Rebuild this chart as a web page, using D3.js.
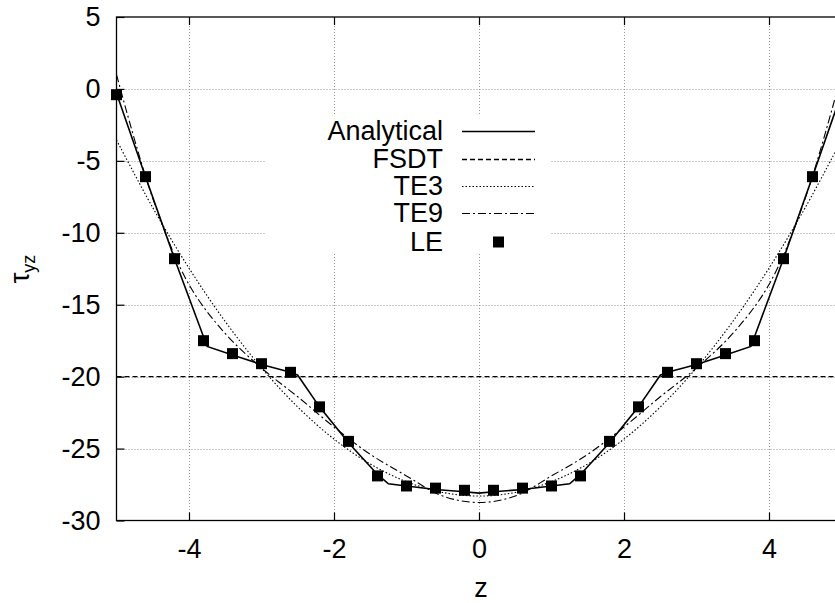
<!DOCTYPE html>
<html><head><meta charset="utf-8">
<script src="https://cdn.jsdelivr.net/npm/d3@7"></script>
<style>body{margin:0;background:#fff}svg{display:block}text{font-family:"Liberation Sans",Arial,sans-serif;fill:#000}</style>
</head><body><svg id="c" width="835" height="603"></svg>
<script>
// ---- data ----
const xTicks = [-4, -2, 0, 2, 4];
const yTicks = [5, 0, -5, -10, -15, -20, -25, -30];
const seriesNames = ["Analytical", "FSDT", "TE3", "TE9", "LE"];

const analyticalZ = [-5, -4.6, -4.2, -3.75, -3.4, -3.0, -2.6, -2.5, -2.2, -1.8, -1.4, -1.25, -1.0, -0.6, -0.2, 0,
                     0.2, 0.6, 1.0, 1.25, 1.4, 1.8, 2.2, 2.5, 2.6, 3.0, 3.4, 3.75, 4.2, 4.6, 5];
const analyticalV = [-0.3, -6.1, -11.8, -17.9, -18.5, -19.15, -19.7, -19.9, -22.1, -24.6, -26.8, -27.45, -27.6, -27.85, -28.0, -28.1,
                     -28.0, -27.85, -27.6, -27.45, -26.8, -24.6, -22.1, -19.9, -19.7, -19.15, -18.5, -17.9, -11.8, -6.1, -0.3];

const fsdtZ = [-5, 5];
const fsdtV = [-20, -20];

const teZ = [-5, -4.5, -4, -3.5, -3, -2.5, -2, -1.5, -1, -0.5, 0, 0.5, 1, 1.5, 2, 2.5, 3, 3.5, 4, 4.5, 5];
const te3V = [-3.55, -8.25, -12.46, -16.17, -19.39, -22.11, -24.34, -26.07, -27.3, -28.05, -28.3,
              -28.05, -27.3, -26.07, -24.34, -22.11, -19.39, -16.17, -12.46, -8.25, -3.55];
const te9V = [1.0, -7.6, -13.6, -17.0, -19.4, -21.4, -23.5, -25.4, -26.9, -28.3, -28.75,
              -28.3, -26.9, -25.4, -23.5, -21.4, -19.4, -17.0, -13.6, -7.6, 1.0];

const leZ = [-5, -4.6, -4.2, -3.8, -3.4, -3.0, -2.6, -2.2, -1.8, -1.4, -1.0, -0.6, -0.2,
             0.2, 0.6, 1.0, 1.4, 1.8, 2.2, 2.6, 3.0, 3.4, 3.8, 4.2, 4.6, 5];
const leV = [-0.4, -6.1, -11.8, -17.5, -18.4, -19.1, -19.7, -22.1, -24.5, -26.9, -27.6, -27.75, -27.9,
             -27.9, -27.75, -27.6, -26.9, -24.5, -22.1, -19.7, -19.1, -18.4, -17.5, -11.8, -6.1, -0.4];

// ---- layout ----
const L = 116.5, R = 841.5, T = 17, B = 520.5;
const FS = 27;
const svg = d3.select("#c");
const x = d3.scaleLinear().domain([-5, 5]).range([L, R]);
const y = d3.scaleLinear().domain([-30, 5]).range([B, T]);
const fmt = d => String(d);

// grid
const grid = svg.append("g").attr("stroke", "#999").attr("stroke-width", 1).attr("stroke-dasharray", "1,2");
grid.selectAll(".gx").data(xTicks).join("line")
  .attr("x1", d => Math.round(x(d)) + 0.5).attr("x2", d => Math.round(x(d)) + 0.5).attr("y1", T).attr("y2", B);
grid.selectAll(".gy").data(yTicks.filter(d => d < 5 && d > -30)).join("line")
  .attr("y1", d => Math.round(y(d)) + 0.5).attr("y2", d => Math.round(y(d)) + 0.5).attr("x1", L).attr("x2", R);

// legend background box
svg.append("rect").attr("x", 266).attr("y", 115).attr("width", 285).attr("height", 138).attr("fill", "#fff");

// axes (inward ticks via d3 axes)
const axB = d3.axisBottom(x).tickValues(xTicks).tickSize(-8).tickPadding(18).tickFormat(fmt);
const axT = d3.axisTop(x).tickValues(xTicks).tickSize(-8).tickFormat("");
const axL = d3.axisLeft(y).tickValues(yTicks).tickSize(-8).tickPadding(16).tickFormat(fmt);
function styleAxis(g) {
  g.select(".domain").remove();
  g.selectAll(".tick line").attr("stroke", "#000").attr("stroke-width", 1.2);
  g.selectAll(".tick text").attr("font-size", FS).attr("font-family", '"Liberation Sans",Arial,sans-serif').attr("fill", "#000");
}
svg.append("g").attr("transform", `translate(0,${B})`).call(axB).call(styleAxis);
svg.append("g").attr("transform", `translate(0,${T})`).call(axT).call(styleAxis);
svg.append("g").attr("transform", `translate(${L},0)`).call(axL).call(styleAxis);

// border
svg.append("rect").attr("x", L).attr("y", T).attr("width", R - L).attr("height", B - T)
  .attr("fill", "none").attr("stroke", "#000").attr("stroke-width", 1.3);

// series lines
const lineLin = d3.line().x(d => x(d[0])).y(d => y(d[1]));
const lineSmooth = d3.line().x(d => x(d[0])).y(d => y(d[1])).curve(d3.curveCatmullRom.alpha(0.5));
const styles = {
  Analytical: {w: 1.6, dash: null},
  FSDT: {w: 1.4, dash: "5,3"},
  TE3: {w: 1.1, dash: "1.5,2"},
  TE9: {w: 1.1, dash: "8,3,2,3"}
};
function drawLine(name, zs, vs, gen) {
  svg.append("path").datum(zs.map((z, i) => [z, vs[i]])).attr("d", gen)
    .attr("fill", "none").attr("stroke", "#000").attr("stroke-width", styles[name].w)
    .attr("stroke-dasharray", styles[name].dash);
}
drawLine("FSDT", fsdtZ, fsdtV, lineLin);
drawLine("TE3", teZ, te3V, lineSmooth);
drawLine("TE9", teZ, te9V, lineSmooth);
drawLine("Analytical", analyticalZ, analyticalV, lineLin);

const SQ = 11;
svg.append("g").selectAll("rect").data(leZ.map((z, i) => [z, leV[i]])).join("rect")
  .attr("x", d => x(d[0]) - SQ / 2).attr("y", d => y(d[1]) - SQ / 2)
  .attr("width", SQ).attr("height", SQ).attr("fill", "#000");

// legend
const legRows = [131, 159, 186, 213, 242];
const lg = svg.append("g");
seriesNames.forEach((name, i) => {
  const cy = legRows[i];
  lg.append("text").attr("x", 443).attr("y", cy).attr("dy", "0.35em").attr("text-anchor", "end")
    .attr("font-size", FS).text(name);
  if (name === "LE") {
    lg.append("rect").attr("x", 498.5 - SQ / 2).attr("y", cy - SQ / 2).attr("width", SQ).attr("height", SQ).attr("fill", "#000");
  } else {
    lg.append("line").attr("x1", 462).attr("x2", 535).attr("y1", cy + 0.5).attr("y2", cy + 0.5)
      .attr("stroke", "#000").attr("stroke-width", styles[name].w).attr("stroke-dasharray", styles[name].dash);
  }
});

// axis labels
svg.append("text").attr("x", 481).attr("y", 597).attr("text-anchor", "middle").attr("font-size", FS).text("z");
const yl = svg.append("text").attr("transform", "translate(29,269) rotate(-90)").attr("text-anchor", "middle").attr("font-size", FS);
yl.append("tspan").text("τ");
yl.append("tspan").attr("font-size", 18).attr("dy", 6).text("yz");
</script></body></html>
